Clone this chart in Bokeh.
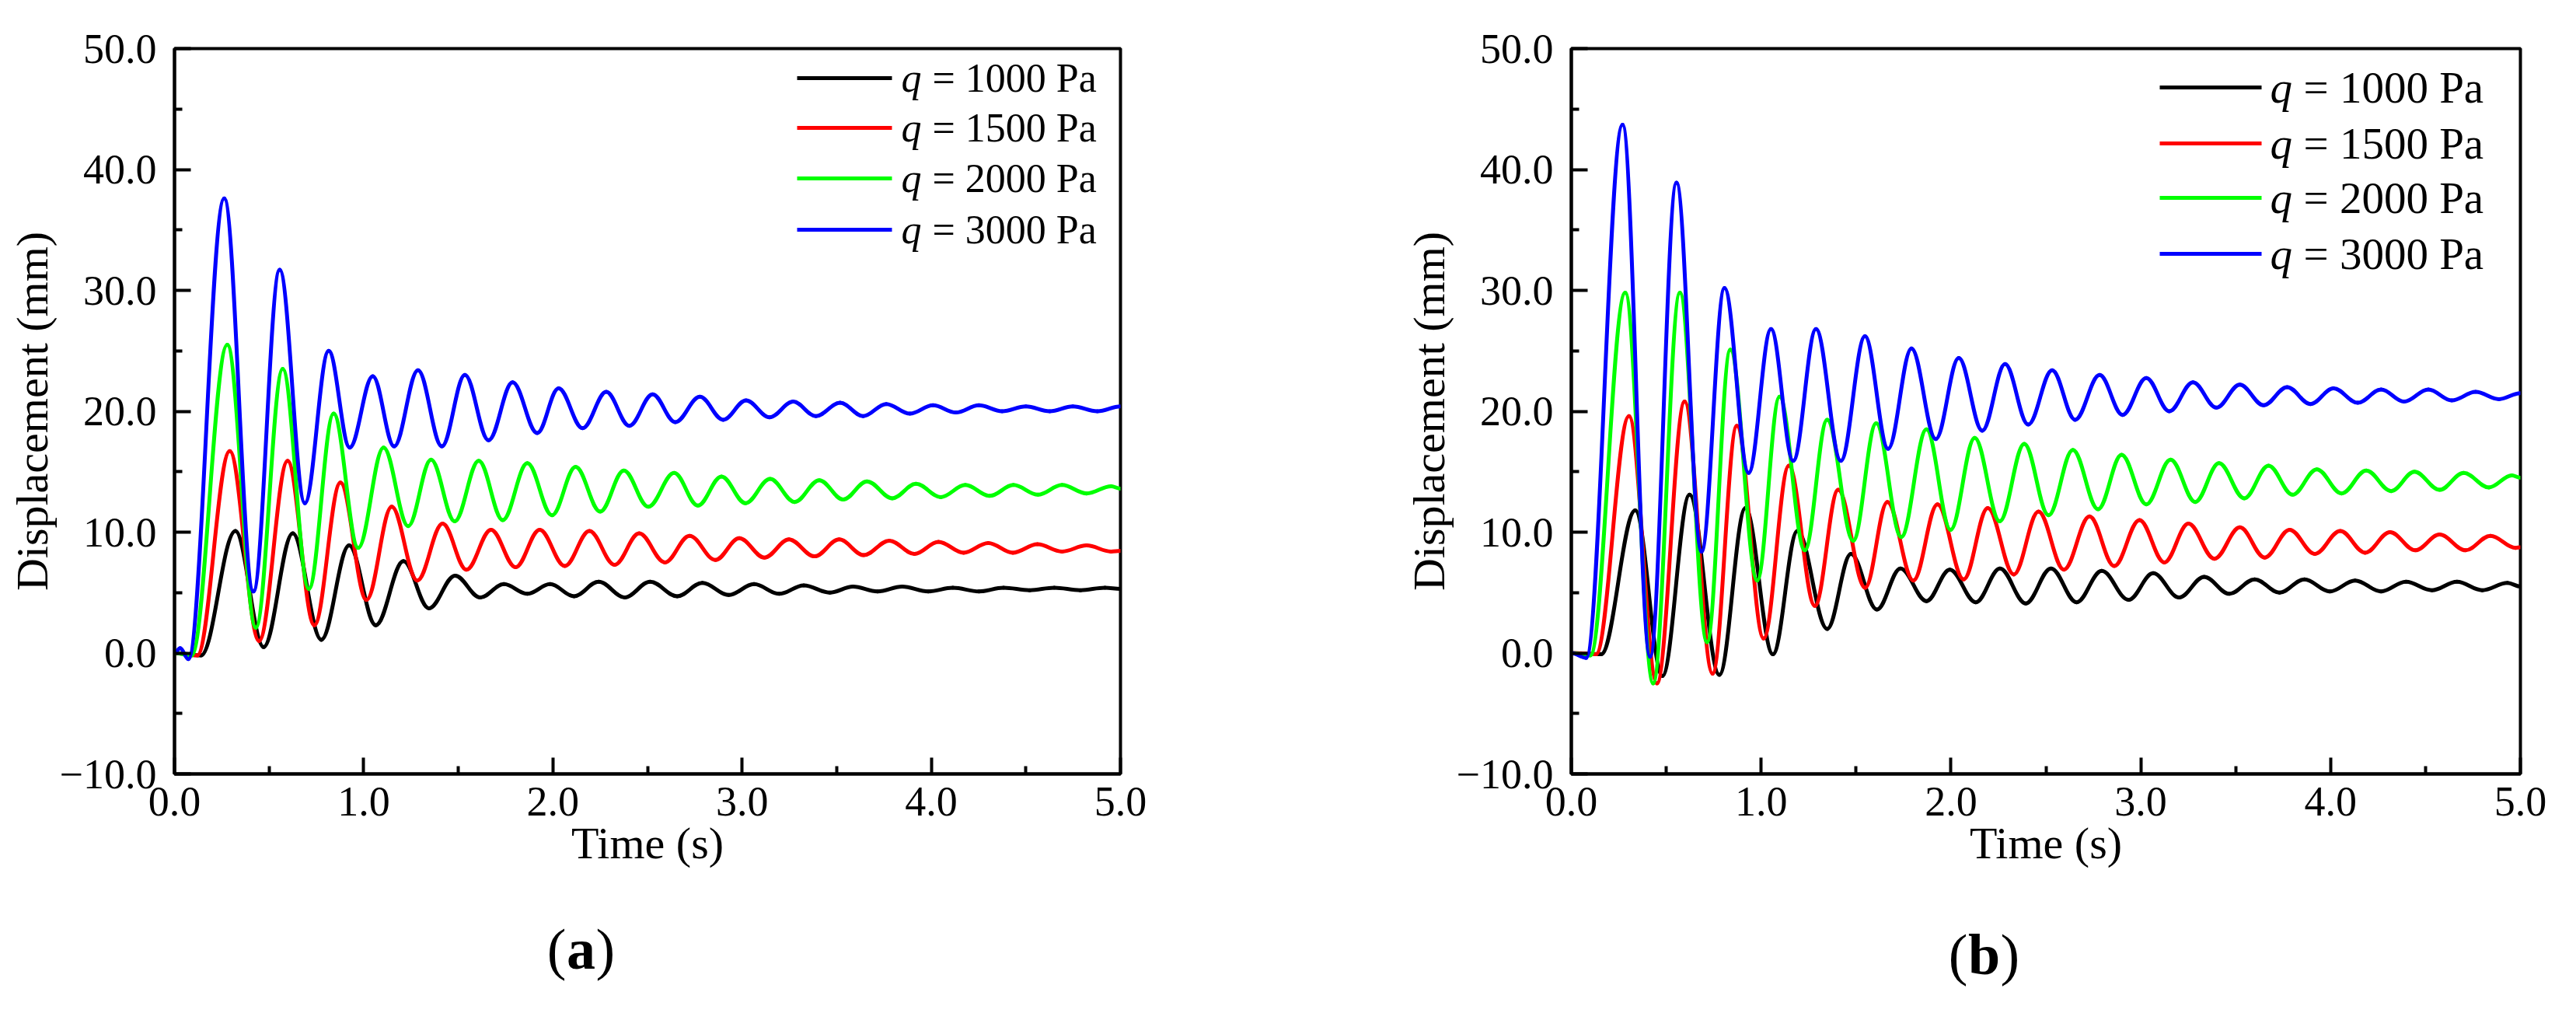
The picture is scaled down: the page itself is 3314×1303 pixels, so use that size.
import numpy as np

from bokeh.plotting import figure
from bokeh.layouts import row, column
from bokeh.models import Range1d, FixedTicker, Label, Arrow, ColumnDataSource
from bokeh.embed import file_html
from bokeh.resources import INLINE

# axes
x_ticks = [0, 1, 2, 3, 4, 5]
x_minor = [0.5, 1.5, 2.5, 3.5, 4.5]
x_tick_labels = ["0.0", "1.0", "2.0", "3.0", "4.0", "5.0"]
y_ticks = [-10, 0, 10, 20, 30, 40, 50]
y_minor = [-5, 5, 15, 25, 35, 45]
y_tick_labels = ["\u221210.0", "0.0", "10.0", "20.0", "30.0", "40.0", "50.0"]

loads = ["1000", "1500", "2000", "3000"]
colors = ["#000000", "#ff0000", "#00ff00", "#0000ff"]

# panel (a): turning points of each curve
a_t_1000 = [0, 0.14, 0.322, 0.471, 0.625, 0.776, 0.923, 1.064, 1.21, 1.345, 1.483, 1.616, 1.741, 1.865,
            1.985, 2.112, 2.242, 2.38, 2.514, 2.657, 2.79, 2.929, 3.063, 3.196, 3.326, 3.464, 3.586,
            3.716, 3.846, 3.984, 4.114, 4.252, 4.382, 4.52, 4.65, 4.788, 4.918, 5.0]
a_v_1000 = [0, -0.2, 10.1, 0.5, 9.9, 1.1, 8.9, 2.3, 7.6, 3.7, 6.4, 4.6, 5.7, 4.9,
            5.7, 4.7, 5.9, 4.6, 5.9, 4.7, 5.8, 4.8, 5.7, 4.9, 5.6, 5.0, 5.5,
            5.1, 5.5, 5.1, 5.4, 5.1, 5.4, 5.2, 5.4, 5.2, 5.4, 5.3]

a_t_1500 = [0, 0.12, 0.292, 0.447, 0.598, 0.739, 0.877, 1.015, 1.148, 1.283, 1.417, 1.543, 1.673,
            1.803, 1.93, 2.063, 2.193, 2.326, 2.456, 2.592, 2.722, 2.859, 2.985, 3.118, 3.248, 3.383,
            3.513, 3.643, 3.778, 3.911, 4.038, 4.171, 4.301, 4.431, 4.561, 4.691, 4.821, 4.95, 5.0]
a_v_1500 = [0, -0.2, 16.7, 1.0, 15.9, 2.3, 14.1, 4.4, 12.1, 6.0, 10.7, 6.9, 10.2,
            7.1, 10.2, 7.2, 10.1, 7.3, 9.9, 7.5, 9.7, 7.7, 9.5, 7.9, 9.4, 8.0,
            9.4, 8.1, 9.3, 8.2, 9.2, 8.3, 9.1, 8.3, 9.0, 8.4, 8.9, 8.4, 8.45]

a_t_2000 = [0, 0.09, 0.279, 0.43, 0.572, 0.71, 0.841, 0.971, 1.105, 1.235, 1.356, 1.481, 1.608, 1.735,
            1.865, 1.995, 2.12, 2.25, 2.375, 2.504, 2.641, 2.766, 2.891, 3.018, 3.148, 3.278, 3.408,
            3.534, 3.66, 3.794, 3.919, 4.05, 4.18, 4.309, 4.434, 4.564, 4.691, 4.821, 4.951, 5.0]
a_v_2000 = [0, -0.2, 25.5, 2.1, 23.5, 5.3, 19.8, 8.7, 17.0, 10.5, 16.0, 10.9, 15.9, 11.0,
            15.7, 11.4, 15.4, 11.7, 15.1, 12.1, 14.9, 12.2, 14.6, 12.4, 14.4, 12.5, 14.3,
            12.7, 14.2, 12.8, 14.0, 12.9, 13.9, 13.0, 13.9, 13.1, 13.9, 13.2, 13.8, 13.6]

a_t_3000 = [0, 0.03, 0.073, 0.263, 0.417, 0.556, 0.689, 0.815, 0.926, 1.048, 1.161, 1.287, 1.413,
            1.535, 1.66, 1.787, 1.917, 2.03, 2.157, 2.282, 2.404, 2.527, 2.647, 2.777, 2.9, 3.021,
            3.145, 3.27, 3.39, 3.518, 3.64, 3.762, 3.887, 4.009, 4.13, 4.252, 4.374, 4.5, 4.626,
            4.748, 4.878, 5.0]
a_v_3000 = [0, 0.4, -0.5, 37.6, 5.1, 31.7, 12.4, 25.0, 17.0, 22.9, 17.1, 23.4, 17.1,
            23.0, 17.6, 22.4, 18.2, 21.9, 18.6, 21.6, 18.8, 21.4, 19.1, 21.2, 19.3, 20.9,
            19.5, 20.8, 19.6, 20.7, 19.6, 20.6, 19.8, 20.5, 19.9, 20.5, 20.0, 20.4, 20.0,
            20.4, 20.0, 20.4]

# panel (b)
b_t_1000 = [0, 0.157, 0.337, 0.48, 0.623, 0.78, 0.917, 1.062, 1.191, 1.348, 1.473, 1.61, 1.734, 1.871,
            1.994, 2.131, 2.258, 2.394, 2.527, 2.662, 2.794, 2.936, 3.065, 3.202, 3.334, 3.467, 3.6,
            3.731, 3.862, 3.996, 4.129, 4.266, 4.397, 4.534, 4.666, 4.799, 4.932, 5.0]
b_v_1000 = [0, -0.1, 11.8, -1.9, 13.1, -1.8, 12.0, -0.1, 10.1, 2.0, 8.2, 3.6, 7.0, 4.3,
            6.9, 4.2, 7.0, 4.1, 7.0, 4.2, 6.8, 4.4, 6.6, 4.6, 6.3, 4.9, 6.1,
            5.0, 6.1, 5.1, 6.0, 5.1, 5.9, 5.2, 5.9, 5.2, 5.8, 5.5]

b_t_1500 = [0, 0.13, 0.304, 0.451, 0.597, 0.744, 0.872, 1.013, 1.146, 1.283, 1.406, 1.548, 1.665,
            1.802, 1.929, 2.067, 2.194, 2.331, 2.461, 2.595, 2.73, 2.86, 2.993, 3.124, 3.251, 3.388,
            3.522, 3.653, 3.784, 3.917, 4.051, 4.182, 4.313, 4.446, 4.574, 4.711, 4.842, 4.975, 5.0]
b_v_1500 = [0, -0.1, 19.6, -2.5, 20.8, -1.7, 18.8, 1.2, 15.5, 3.9, 13.5, 5.4, 12.5,
            6.0, 12.3, 6.1, 12.0, 6.5, 11.7, 6.9, 11.3, 7.2, 11.0, 7.5, 10.7, 7.8,
            10.4, 7.9, 10.2, 8.2, 10.1, 8.3, 10.0, 8.5, 9.8, 8.5, 9.7, 8.7, 8.75]

b_t_2000 = [0, 0.1, 0.284, 0.431, 0.572, 0.715, 0.838, 0.979, 1.097, 1.23, 1.348, 1.485, 1.606, 1.738,
            1.871, 1.998, 2.125, 2.257, 2.386, 2.514, 2.642, 2.775, 2.899, 3.029, 3.157, 3.287, 3.412,
            3.545, 3.673, 3.8, 3.927, 4.058, 4.188, 4.319, 4.442, 4.574, 4.701, 4.834, 4.955, 5.0]
b_v_2000 = [0, -0.2, 29.8, -2.5, 29.8, 0.9, 25.1, 6.0, 21.2, 8.5, 19.3, 9.3, 19.0, 9.6,
            18.5, 10.2, 17.8, 10.9, 17.3, 11.4, 16.8, 11.9, 16.4, 12.3, 16.0, 12.5, 15.7,
            12.8, 15.5, 13.1, 15.2, 13.2, 15.1, 13.4, 15.0, 13.5, 14.9, 13.7, 14.7, 14.5]

b_t_3000 = [0, 0.078, 0.27, 0.415, 0.554, 0.686, 0.807, 0.934, 1.052, 1.169, 1.289, 1.42, 1.547,
            1.669, 1.792, 1.92, 2.041, 2.165, 2.285, 2.407, 2.533, 2.654, 2.783, 2.904, 3.029, 3.15,
            3.275, 3.398, 3.522, 3.647, 3.771, 3.894, 4.015, 4.143, 4.266, 4.387, 4.515, 4.638,
            4.764, 4.887, 5.0]
b_v_3000 = [0, -0.4, 43.7, -0.3, 38.9, 8.4, 30.2, 14.9, 26.8, 15.9, 26.8, 15.9, 26.2,
            16.9, 25.2, 17.7, 24.4, 18.4, 23.9, 18.9, 23.4, 19.3, 23.0, 19.7, 22.75, 20.0,
            22.4, 20.3, 22.2, 20.5, 22.0, 20.6, 21.9, 20.7, 21.8, 20.8, 21.8, 20.9,
            21.6, 21.0, 21.5]

FONT = "Liberation Serif"


def draw_curve(p, t, v, color):
    # smooth curve through the turning points: one cubic per half swing, flat at both ends
    t = np.asarray(t, dtype=float)
    v = np.asarray(v, dtype=float)
    d = np.diff(t) * 0.364
    src = ColumnDataSource(dict(x0=t[:-1], y0=v[:-1], x1=t[1:], y1=v[1:],
                                cx0=t[:-1] + d, cy0=v[:-1], cx1=t[1:] - d, cy1=v[1:]))
    p.bezier(x0="x0", y0="y0", x1="x1", y1="y1", cx0="cx0", cy0="cy0", cx1="cx1", cy1="cy1",
             source=src, line_color=color, line_width=5, line_cap="round")


def make_panel(series, width, height, borders, legend):
    left, right, top, bottom = borders
    p = figure(width=width, height=height, output_backend="svg", toolbar_location=None,
               x_range=Range1d(0, 5), y_range=Range1d(-10, 50),
               min_border_left=left, min_border_right=right,
               min_border_top=top, min_border_bottom=bottom)
    p.xgrid.visible = False
    p.ygrid.visible = False
    p.outline_line_color = "black"
    p.outline_line_width = 4
    p.outline_line_alpha = 1.0

    p.xaxis.ticker = FixedTicker(ticks=x_ticks, minor_ticks=x_minor)
    p.yaxis.ticker = FixedTicker(ticks=y_ticks, minor_ticks=y_minor)
    p.xaxis.major_label_overrides = dict(zip(x_ticks, x_tick_labels))
    p.yaxis.major_label_overrides = dict(zip(y_ticks, y_tick_labels))
    p.xaxis.axis_label = "Time (s)"
    p.yaxis.axis_label = "Displacement (mm)"
    for ax in (p.xaxis, p.yaxis):
        ax.axis_line_width = 4
        ax.axis_line_color = "black"
        ax.major_tick_in = 21
        ax.major_tick_out = 0
        ax.minor_tick_in = 10
        ax.minor_tick_out = 0
        ax.major_tick_line_width = 4
        ax.minor_tick_line_width = 4
        ax.major_tick_line_color = "black"
        ax.minor_tick_line_color = "black"
        ax.major_label_text_font = FONT
        ax.major_label_text_font_size = "54px"
        ax.major_label_text_color = "black"
        ax.axis_label_text_font = FONT
        ax.axis_label_text_font_size = "58px"
        ax.axis_label_text_font_style = "normal"
        ax.axis_label_text_color = "black"
        ax.axis_label_standoff = 0
    p.xaxis.major_label_standoff = 17
    p.yaxis.major_label_standoff = 23

    for (t, v), c in zip(series, colors):
        draw_curve(p, t, v, c)

    # legend: sample line, italic q, then the rest of the label
    x0, x1, xq, xeq, rows, fs = legend
    for load, c, y in zip(loads, colors, rows):
        p.add_layout(Arrow(x_start=x0, y_start=y, x_end=x1, y_end=y,
                           start_units="screen", end_units="screen", start=None, end=None,
                           line_color=c, line_width=5))
        p.add_layout(Label(x=xq, y=y, x_units="screen", y_units="screen", text="q",
                           text_font=FONT, text_font_size=fs, text_font_style="italic",
                           text_baseline="middle", text_align="left", text_color="black"))
        p.add_layout(Label(x=xeq, y=y, x_units="screen", y_units="screen", text="= %s Pa" % load,
                           text_font=FONT, text_font_size=fs, text_baseline="middle",
                           text_align="left", text_color="black"))
    return p


def make_tag(width, height, cx, cy, letter, half):
    # strip under a panel carrying "(a)" / "(b)" with a bold letter
    t = figure(width=width, height=height, output_backend="svg", toolbar_location=None,
               x_range=Range1d(0, 1), y_range=Range1d(0, 1),
               x_axis_location=None, y_axis_location=None, min_border=0)
    t.xgrid.visible = False
    t.ygrid.visible = False
    t.outline_line_color = None
    for txt, x, align, style in (("(", cx - half, "right", "normal"),
                                 (letter, cx, "center", "bold"),
                                 (")", cx + half, "left", "normal")):
        t.add_layout(Label(x=x, y=cy, x_units="screen", y_units="screen", text=txt,
                           text_font=FONT, text_font_size="74px", text_font_style=style,
                           text_baseline="middle", text_align=align, text_color="black"))
    return t


series_a = [(a_t_1000, a_v_1000), (a_t_1500, a_v_1500), (a_t_2000, a_v_2000), (a_t_3000, a_v_3000)]
series_b = [(b_t_1000, b_v_1000), (b_t_1500, b_v_1500), (b_t_2000, b_v_2000), (b_t_3000, b_v_3000)]

pa = make_panel(series_a, 1642, 1180, (224, 201, 62, 172),
                (801, 923, 935, 975, [895, 831, 766, 700], "52px"))
pb = make_panel(series_b, 1656, 1180, (379, 56, 44, 185),
                (757, 888, 899, 942, [883, 811, 741, 669], "57px"))
ta = make_tag(1642, 107, 747, 67, "a", 19)
tb = make_tag(1656, 107, 910, 60, "b", 21)

p = column(row(pa, pb), row(ta, tb))
open("out.html", "w").write(file_html(p, INLINE))
